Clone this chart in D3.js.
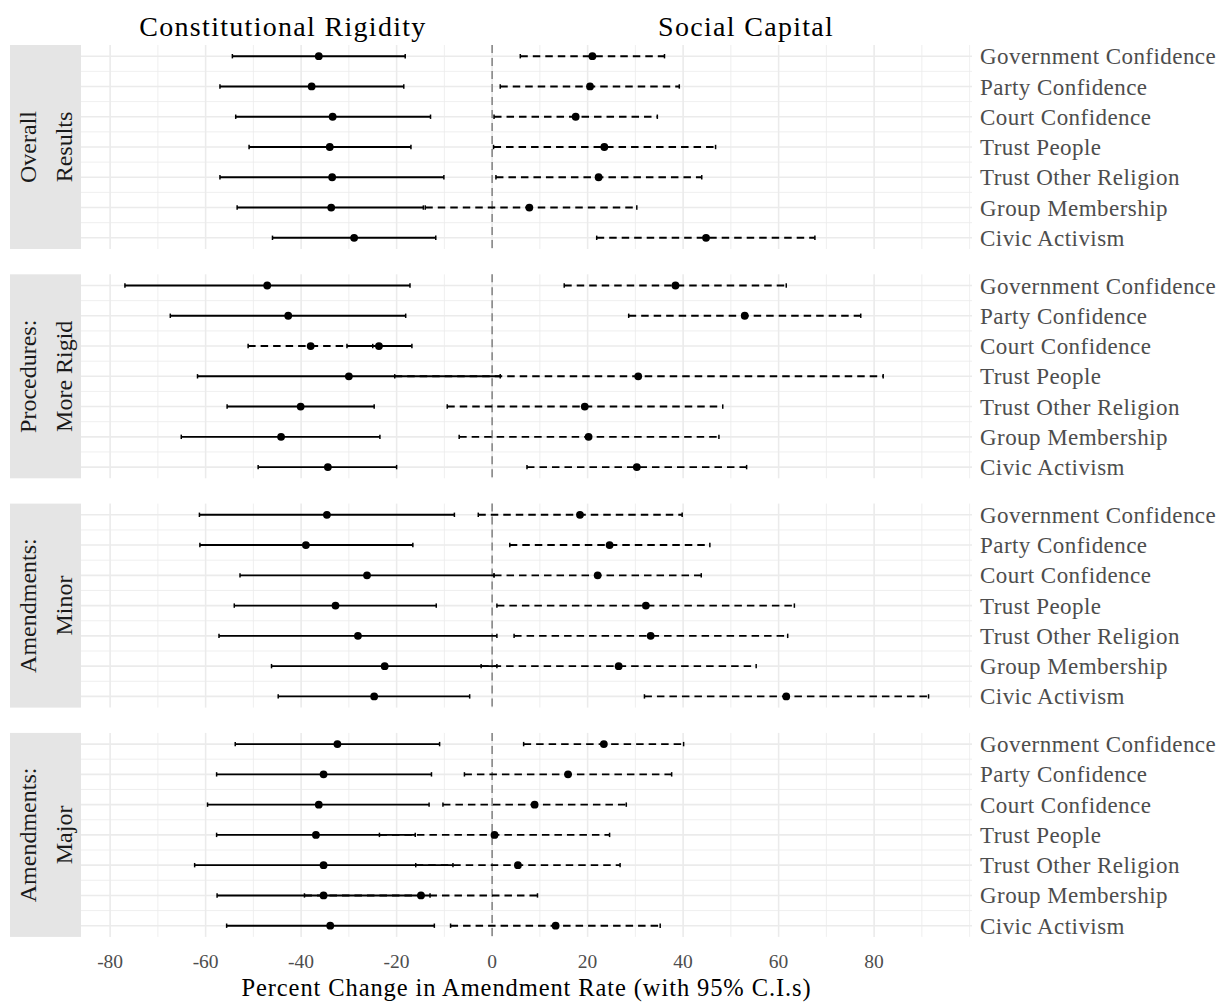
<!DOCTYPE html>
<html>
<head>
<meta charset="utf-8">
<script src="https://cdn.jsdelivr.net/npm/d3@7"></script>
<style>
  body { margin: 0; background: #fff; }
  svg text { font-family: "Liberation Serif", "DejaVu Serif", serif; }
</style>
</head>
<body>
<div id="chart"></div>
<script>
// facet rows (strip labels, two lines each)
const panels = [
  ["Overall", "Results"],
  ["Procedures:", "More Rigid"],
  ["Amendments:", "Minor"],
  ["Amendments:", "Major"]
];

const outcomes = [
  "Government Confidence",
  "Party Confidence",
  "Court Confidence",
  "Trust People",
  "Trust Other Religion",
  "Group Membership",
  "Civic Activism"
];

const seriesNames = ["Constitutional Rigidity", "Social Capital"];

// Constitutional Rigidity: one row per panel, one value per outcome
const rigidityLow = [
  [-54.4, -57.0, -53.7, -50.9, -57.0, -53.4, -46.0],
  [-76.9, -67.4, -30.4, -61.7, -55.5, -65.1, -49.0],
  [-61.3, -61.2, -52.8, -54.0, -57.2, -46.2, -44.8],
  [-53.8, -57.7, -59.6, -57.7, -62.3, -57.6, -55.6]
];
const rigidityEst = [
  [-36.3, -37.8, -33.4, -34.0, -33.5, -33.7, -28.9],
  [-47.1, -42.7, -23.7, -30.0, -40.1, -44.2, -34.4],
  [-34.6, -39.0, -26.2, -32.8, -28.1, -22.5, -24.7],
  [-32.4, -35.3, -36.3, -36.9, -35.3, -35.3, -33.9]
];
const rigidityHigh = [
  [-18.2, -18.5, -12.9, -17.0, -10.1, -14.4, -11.8],
  [-17.2, -18.1, -16.8, 1.7, -24.7, -23.5, -20.0],
  [-7.9, -16.6, 0.4, -11.7, 1.0, 1.0, -4.7],
  [-11.0, -12.7, -13.2, -16.1, -8.2, -13.0, -12.1]
];

// Social Capital
const socialLow = [
  [5.9, 1.7, 0.4, 0.3, 0.8, -14.0, 21.9],
  [15.1, 28.6, -51.1, -20.4, -9.4, -6.9, 7.3],
  [-2.9, 3.7, 0.4, 1.0, 4.6, -2.3, 31.9],
  [6.6, -5.8, -10.3, -23.6, -16.0, -39.3, -8.7]
];
const socialEst = [
  [21.0, 20.5, 17.5, 23.5, 22.3, 7.8, 44.8],
  [38.4, 52.9, -38.0, 30.6, 19.4, 20.2, 30.3],
  [18.4, 24.6, 22.1, 32.2, 33.2, 26.5, 61.6],
  [23.4, 15.9, 8.9, 0.5, 5.4, -14.9, 13.3]
];
const socialHigh = [
  [36.1, 39.2, 34.6, 46.8, 43.9, 30.3, 67.6],
  [61.6, 77.2, -25.0, 81.9, 48.3, 47.5, 53.3],
  [39.8, 45.6, 43.8, 63.3, 61.9, 55.3, 91.4],
  [40.1, 37.6, 28.1, 24.6, 26.8, 9.5, 35.2]
];

const xTicks = [-80, -60, -40, -20, 0, 20, 40, 60, 80];
const xMinor = [-70, -50, -30, -10, 10, 30, 50, 70, 90, 100];
const titleAt = [-43.8, 53.2]; // where the two column headers sit on the x axis

const width = 1219, height = 1002;
const left = 81, right = 972;
const stripX = 10;
const panelTop = 45, panelH = 204, panelStep = 229.3;

const x = d3.scaleLinear().domain([-86.1, 100.5]).range([left, right]);
const y = d3.scaleLinear().domain([0.63, 7.37]).range([0, panelH]);

const rows = [];
panels.forEach((p, i) => {
  outcomes.forEach((o, j) => {
    rows.push({panel: i, pos: j + 1, series: 0, lo: rigidityLow[i][j], est: rigidityEst[i][j], hi: rigidityHigh[i][j]});
    rows.push({panel: i, pos: j + 1, series: 1, lo: socialLow[i][j], est: socialEst[i][j], hi: socialHigh[i][j]});
  });
});

const svg = d3.select("#chart").append("svg")
    .attr("width", width)
    .attr("height", height);

// column headers
svg.selectAll(".col-title")
  .data(seriesNames)
  .join("text")
    .attr("class", "col-title")
    .attr("x", (d, i) => x(titleAt[i]))
    .attr("y", 36)
    .attr("text-anchor", "middle")
    .attr("font-size", 28)
    .attr("letter-spacing", 1.3)
    .attr("fill", "#000")
    .text(d => d);

const grid = "#ebebeb";

panels.forEach((p, i) => {
  const g = svg.append("g")
      .attr("transform", `translate(0,${panelTop + i * panelStep})`);

  // strip
  g.append("rect")
      .attr("x", stripX)
      .attr("y", 0)
      .attr("width", left - stripX)
      .attr("height", panelH)
      .attr("fill", "#e5e5e5");

  g.append("text")
      .attr("transform", `translate(${(stripX + left) / 2},${panelH / 2}) rotate(-90)`)
      .attr("text-anchor", "middle")
      .attr("font-size", 24)
      .attr("fill", "#1a1a1a")
      .selectAll("tspan")
      .data(p)
      .join("tspan")
        .attr("x", 0)
        .attr("y", (d, k) => k === 0 ? -10 : 26.5)
        .text(d => d);

  // grid lines
  g.selectAll(".vminor")
    .data(xMinor)
    .join("line")
      .attr("x1", d => x(d)).attr("x2", d => x(d))
      .attr("y1", 0).attr("y2", panelH)
      .attr("stroke", grid).attr("stroke-width", 0.8);

  g.selectAll(".hminor")
    .data(d3.range(1.5, 7, 1))
    .join("line")
      .attr("x1", left).attr("x2", right)
      .attr("y1", d => y(d)).attr("y2", d => y(d))
      .attr("stroke", grid).attr("stroke-width", 0.8);

  g.selectAll(".vmajor")
    .data(xTicks)
    .join("line")
      .attr("x1", d => x(d)).attr("x2", d => x(d))
      .attr("y1", 0).attr("y2", panelH)
      .attr("stroke", grid).attr("stroke-width", 1.6);

  g.selectAll(".hmajor")
    .data(d3.range(1, 8))
    .join("line")
      .attr("x1", left).attr("x2", right)
      .attr("y1", d => y(d)).attr("y2", d => y(d))
      .attr("stroke", grid).attr("stroke-width", 1.6);

  // zero reference
  g.append("line")
      .attr("x1", x(0)).attr("x2", x(0))
      .attr("y1", 0).attr("y2", panelH)
      .attr("stroke", "#7a7a7a")
      .attr("stroke-width", 1.4)
      .attr("stroke-dasharray", "8,5");

  // right axis labels
  g.selectAll(".ylab")
    .data(outcomes)
    .join("text")
      .attr("x", right + 8)
      .attr("y", (d, k) => y(k + 1))
      .attr("dy", "0.35em")
      .attr("font-size", 23)
      .attr("letter-spacing", 0.45)
      .attr("fill", "#4d4d4d")
      .text(d => d);

  const data = rows.filter(r => r.panel === i);
  const cap = 2.2;

  const bars = g.selectAll(".bar")
    .data(data)
    .join("g")
      .attr("class", "bar");

  bars.append("line")
      .attr("x1", d => x(d.lo)).attr("x2", d => x(d.hi))
      .attr("y1", d => y(d.pos)).attr("y2", d => y(d.pos))
      .attr("stroke", "#000")
      .attr("stroke-width", 1.9)
      .attr("stroke-dasharray", d => d.series ? "7.5,5" : null);

  bars.selectAll(".cap")
    .data(d => [[d.lo, d.pos], [d.hi, d.pos]])
    .join("line")
      .attr("x1", d => x(d[0])).attr("x2", d => x(d[0]))
      .attr("y1", d => y(d[1]) - cap).attr("y2", d => y(d[1]) + cap)
      .attr("stroke", "#000")
      .attr("stroke-width", 1.5);

  bars.append("circle")
      .attr("cx", d => x(d.est))
      .attr("cy", d => y(d.pos))
      .attr("r", 3.9)
      .attr("fill", "#000");
});

// x axis labels
const lastBottom = panelTop + 3 * panelStep + panelH;
svg.selectAll(".xlab")
  .data(xTicks)
  .join("text")
    .attr("x", d => x(d))
    .attr("y", lastBottom + 31)
    .attr("text-anchor", "middle")
    .attr("font-size", 19.5)
    .attr("fill", "#4d4d4d")
    .text(d => d);

svg.append("text")
    .attr("x", (left + right) / 2)
    .attr("y", 996)
    .attr("text-anchor", "middle")
    .attr("font-size", 24.5)
    .attr("letter-spacing", 0.9)
    .attr("fill", "#000")
    .text("Percent Change in Amendment Rate (with 95% C.I.s)");
</script>
</body>
</html>
